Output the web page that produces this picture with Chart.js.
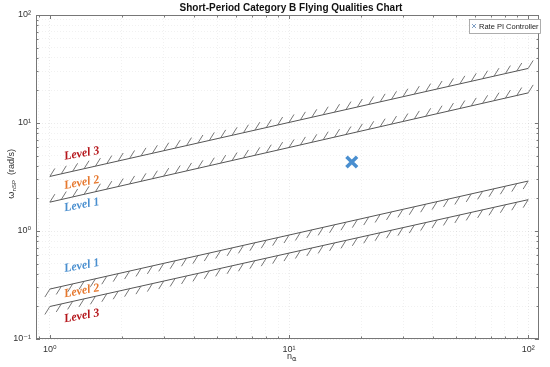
<!DOCTYPE html>
<html>
<head>
<meta charset="utf-8">
<script src="https://cdn.jsdelivr.net/npm/chart.js@4.4.1/dist/chart.umd.min.js"></script>
<style>
  body { margin: 0; background: #fff; }
  canvas { display: block; }
</style>
</head>
<body>
<canvas id="fq" width="550" height="367"></canvas>
<script>
// Boundary lines (n_alpha at both ends, omega_nSP)
const nAlpha = [1, 100];
const upperL3 = [3.2, 32];     // Level 2 / Level 3 upper boundary
const upperL2 = [1.85, 19];    // Level 1 / Level 2 upper boundary
const lowerL2 = [0.29, 2.9];   // Level 1 / Level 2 lower boundary
const lowerL3 = [0.2, 1.95];   // Level 2 / Level 3 lower boundary

// Design point
const designN = [18.3];
const designW = [4.35];

// Level labels
const levelText = ['Level 3', 'Level 2', 'Level 1', 'Level 1', 'Level 2', 'Level 3'];
const levelN = [1.36, 1.36, 1.36, 1.36, 1.36, 1.36];
const levelW = [5.2, 2.8, 1.74, 0.475, 0.278, 0.163];
const levelColor = ['#b5161b', '#e6782e', '#4a8fcf', '#4a8fcf', '#e6782e', '#b5161b'];

const decadeLabels = { 0.1: '10⁻¹', 1: '10⁰', 10: '10¹', 100: '10²' };

function toPoints(xs, ys) {
    return xs.map((x, i) => ({ x: x, y: ys[i] }));
}

function logTicks(min, max) {
    const out = [];
    for (let e = -2; e <= 3; e++) {
        for (let m = 1; m <= 9; m++) {
            const v = +(m * Math.pow(10, e)).toPrecision(6);
            if (v >= min * 0.9999 && v <= max * 1.0001) out.push({ value: v, major: m === 1 });
        }
    }
    return out;
}

const lineStyle = {
    showLine: true,
    pointRadius: 0,
    borderColor: '#555',
    borderWidth: 1,
    fill: false,
};

// Hatch marks along the boundary lines
const hatchPlugin = {
    id: 'hatch',
    afterDatasetsDraw(chart) {
        const ctx = chart.ctx;
        ctx.save();
        ctx.strokeStyle = '#666';
        ctx.lineWidth = 0.9;
        chart.data.datasets.forEach((ds, i) => {
            if (!ds.hatch) return;
            const pts = chart.getDatasetMeta(i).data;
            const p0 = pts[0], p1 = pts[pts.length - 1];
            const len = Math.hypot(p1.x - p0.x, p1.y - p0.y);
            const n = Math.round(len / 11.6);
            const dx = ds.hatch === 'up' ? 5 : -5;
            const dy = ds.hatch === 'up' ? -8 : 8;
            ctx.beginPath();
            for (let k = 0; k <= n; k++) {
                const x = p0.x + (p1.x - p0.x) * k / n;
                const y = p0.y + (p1.y - p0.y) * k / n;
                ctx.moveTo(x, y);
                ctx.lineTo(x + dx, y + dy);
            }
            ctx.stroke();
        });
        ctx.restore();
    }
};

// Title, axis titles, level labels, legend, box and inner ticks
const decorPlugin = {
    id: 'decor',
    afterDraw(chart) {
        const ctx = chart.ctx;
        const a = chart.chartArea;
        const xs = chart.scales.x, ys = chart.scales.y;
        ctx.save();

        // box
        ctx.strokeStyle = '#777';
        ctx.lineWidth = 1;
        ctx.strokeRect(a.left + 0.5, a.top + 0.5, a.right - a.left - 1, a.bottom - a.top - 1);

        // inner ticks
        ctx.beginPath();
        xs.ticks.forEach(t => {
            const px = Math.round(xs.getPixelForValue(t.value)) + 0.5;
            const l = t.major ? 4 : 2.5;
            ctx.moveTo(px, a.bottom); ctx.lineTo(px, a.bottom - l);
            ctx.moveTo(px, a.top); ctx.lineTo(px, a.top + l);
        });
        ys.ticks.forEach(t => {
            const py = Math.round(ys.getPixelForValue(t.value)) + 0.5;
            const l = t.major ? 4 : 2.5;
            ctx.moveTo(a.left, py); ctx.lineTo(a.left + l, py);
            ctx.moveTo(a.right, py); ctx.lineTo(a.right - l, py);
        });
        ctx.stroke();

        // title
        ctx.fillStyle = '#111';
        ctx.font = 'bold 10px "Liberation Sans", Arial, sans-serif';
        ctx.textAlign = 'center';
        ctx.textBaseline = 'middle';
        ctx.fillText('Short-Period Category B Flying Qualities Chart', 291, 8);

        // x axis title n_alpha
        ctx.fillStyle = '#333';
        ctx.font = '9px "Liberation Sans", Arial, sans-serif';
        ctx.textAlign = 'left';
        ctx.textBaseline = 'alphabetic';
        const xc = 292;
        ctx.fillText('n', xc - 5, 359);
        ctx.font = '7px "DejaVu Sans", sans-serif';
        ctx.fillText('α', xc, 361);

        // y axis title omega_nSP (rad/s)
        ctx.save();
        ctx.translate(11, (a.top + a.bottom) / 2 - 3);
        ctx.rotate(-Math.PI / 2);
        ctx.textAlign = 'left';
        const parts = [
            { t: 'ω', f: '9px "DejaVu Sans", sans-serif', dy: 0 },
            { t: 'nSP', f: '6px "Liberation Sans", sans-serif', dy: 2 },
            { t: '  (rad/s)', f: '9px "Liberation Sans", sans-serif', dy: 0 },
        ];
        let total = 0;
        parts.forEach(p => { ctx.font = p.f; p.w = ctx.measureText(p.t).width; total += p.w; });
        let cx = -total / 2;
        parts.forEach(p => { ctx.font = p.f; ctx.fillText(p.t, cx, p.dy + 3); cx += p.w; });
        ctx.restore();

        // level labels, rotated along the boundary slope
        const m0 = chart.getDatasetMeta(0).data;
        const ang = Math.atan2(m0[1].y - m0[0].y, m0[1].x - m0[0].x) * 0.8;
        ctx.font = 'italic bold 12px "Liberation Serif", "DejaVu Serif", serif';
        ctx.textAlign = 'center';
        ctx.textBaseline = 'middle';
        levelText.forEach((txt, i) => {
            ctx.save();
            ctx.translate(xs.getPixelForValue(levelN[i]), ys.getPixelForValue(levelW[i]));
            ctx.rotate(ang);
            ctx.fillStyle = levelColor[i];
            ctx.fillText(txt, 0, 0);
            ctx.restore();
        });

        // legend
        const lx = 469, ly = 19, lw = 71, lh = 14;
        ctx.fillStyle = '#fff';
        ctx.fillRect(lx, ly, lw, lh);
        ctx.strokeStyle = '#999';
        ctx.lineWidth = 0.8;
        ctx.strokeRect(lx + 0.5, ly + 0.5, lw, lh);
        ctx.strokeStyle = '#7f9fc4';
        ctx.lineWidth = 1;
        ctx.beginPath();
        ctx.moveTo(472, ly + 5); ctx.lineTo(476, ly + 9);
        ctx.moveTo(476, ly + 5); ctx.lineTo(472, ly + 9);
        ctx.stroke();
        ctx.fillStyle = '#222';
        ctx.font = '7.5px "Liberation Sans", Arial, sans-serif';
        ctx.textAlign = 'left';
        ctx.textBaseline = 'middle';
        ctx.fillText('Rate PI Controller', 479, ly + lh / 2 + 0.5);

        ctx.restore();
    }
};

const gridColor = ctx => (ctx.tick && ctx.tick.major) ? 'rgba(0,0,0,0.1)' : 'rgba(0,0,0,0.07)';

new Chart(document.getElementById('fq'), {
    type: 'scatter',
    data: {
        datasets: [
            Object.assign({ label: 'upperL3', data: toPoints(nAlpha, upperL3), hatch: 'up' }, lineStyle),
            Object.assign({ label: 'upperL2', data: toPoints(nAlpha, upperL2), hatch: 'up' }, lineStyle),
            Object.assign({ label: 'lowerL2', data: toPoints(nAlpha, lowerL2), hatch: 'down' }, lineStyle),
            Object.assign({ label: 'lowerL3', data: toPoints(nAlpha, lowerL3), hatch: 'down' }, lineStyle),
            {
                label: 'Rate PI Controller',
                data: toPoints(designN, designW),
                pointStyle: 'crossRot',
                pointRadius: 7.5,
                pointBorderWidth: 3.5,
                borderColor: '#4a8fd0',
                backgroundColor: '#4a8fd0',
            },
        ],
    },
    options: {
        responsive: false,
        animation: false,
        layout: { padding: { top: 15, right: 7, left: 1, bottom: 0 } },
        plugins: {
            legend: { display: false },
            tooltip: { enabled: false },
        },
        scales: {
            x: {
                type: 'logarithmic',
                min: 0.875,
                max: 111,
                afterBuildTicks: s => { s.ticks = logTicks(0.875, 111); },
                afterFit: s => { s.height = 28; s.paddingLeft = 0; s.paddingRight = 0; },
                ticks: {
                    autoSkip: false,
                    maxRotation: 0,
                    padding: 5,
                    color: '#333',
                    font: { family: '"Liberation Sans", "DejaVu Sans", sans-serif', size: 9 },
                    callback: v => decadeLabels[v] || '',
                },
                grid: { color: gridColor, drawTicks: false, lineWidth: 0.8 },
                border: { display: false, dash: [1, 2] },
            },
            y: {
                type: 'logarithmic',
                min: 0.1,
                max: 100,
                afterBuildTicks: s => { s.ticks = logTicks(0.1, 100); },
                afterFit: s => { s.width = 35; s.paddingTop = 0; s.paddingBottom = 0; },
                ticks: {
                    autoSkip: false,
                    padding: 5,
                    color: '#333',
                    font: { family: '"Liberation Sans", "DejaVu Sans", sans-serif', size: 9 },
                    callback: v => decadeLabels[v] || '',
                },
                grid: { color: gridColor, drawTicks: false, lineWidth: 0.8 },
                border: { display: false, dash: [1, 2] },
            },
        },
    },
    plugins: [hatchPlugin, decorPlugin],
});
</script>
</body>
</html>
